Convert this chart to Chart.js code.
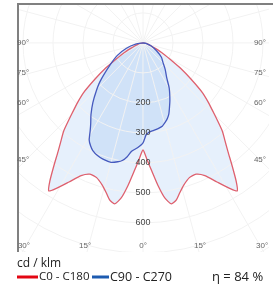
<!DOCTYPE html>
<html>
<head>
<meta charset="utf-8">
<script src="https://cdn.jsdelivr.net/npm/chart.js@4.4.0/dist/chart.umd.min.js"></script>
<style>
  body { margin: 0; background: #fff; }
  #wrap { width: 273px; height: 288px; position: relative; }
</style>
</head>
<body>
<div id="wrap"><canvas id="ldc"></canvas></div>
<script>
// C0 - C180 plane (symmetric), angle from nadir in degrees -> cd/klm
const redAngles = [0, 2, 4, 6, 8, 10, 12, 14, 16, 19, 22, 25, 28, 31, 32.5, 34, 36, 38, 40, 42, 44, 46, 48, 50, 53, 56, 58, 62, 66, 70, 75, 80, 90];
const redValues = [357, 390, 430, 478, 522, 545, 535, 512, 493, 475, 472, 488, 525, 568, 585, 555, 505, 460, 425, 395, 355, 320, 290, 260, 200, 150, 118, 75, 45, 28, 18, 10, 0];

// C90 - C270 plane, negative angles = C270 side
const blueAngles = [-90, -80, -72, -64, -56, -48, -44, -40, -36, -33, -31, -29, -27, -25, -22, -19, -15, -12, -10, -8, -6, -3, 0, 2, 4, 7, 10, 13, 16, 18, 20, 22, 25, 30, 34, 40, 46, 52, 60, 70, 80, 90];
const blueValues = [0, 25, 58, 95, 133, 193, 225, 260, 295, 320, 342, 370, 385, 396, 405, 410, 412, 405, 398, 384, 363, 350, 333, 306, 298, 294, 290, 285, 273, 264, 252, 235, 212, 175, 142, 115, 92, 78, 52, 28, 10, 0];

const radiusTicks = [200, 300, 400, 500, 600];
const sideAngleLabels = ['90°', '75°', '60°', '45°'];
const bottomAngleLabels = ['30°', '15°', '0°', '15°', '30°'];
const seriesNames = ['C0 - C180', 'C90 - C270'];
const unitLabel = 'cd / klm';
const efficiencyLabel = 'η = 84 %';

// polar (angle from nadir, intensity) -> x/y for the scatter scales
function toXY(angles, values) {
  return angles.map((a, i) => {
    const t = a * Math.PI / 180;
    return { x: values[i] * Math.sin(t), y: -values[i] * Math.cos(t) };
  });
}

// mirror the red half-curve to get the full C0-C180 curve
const redFullAngles = redAngles.slice(1).reverse().map(a => -a).concat(redAngles);
const redFullValues = redValues.slice(1).reverse().concat(redValues);

const polarGrid = {
  id: 'polarGrid',
  beforeDatasetsDraw(chart) {
    const { ctx, chartArea, scales } = chart;
    const cx = scales.x.getPixelForValue(0);
    const cy = scales.y.getPixelForValue(0);
    const unit = scales.x.getPixelForValue(100) - cx;
    ctx.save();
    ctx.beginPath();
    ctx.rect(chartArea.left, chartArea.top, chartArea.width, chartArea.height);
    ctx.clip();
    ctx.strokeStyle = '#f2f2f2';
    ctx.lineWidth = 1;
    for (let r = 100; r <= 900; r += 100) {
      ctx.beginPath();
      ctx.arc(cx, cy, r / 100 * unit, 0, Math.PI * 2);
      ctx.stroke();
    }
    for (let a = 0; a < 360; a += 15) {
      const t = a * Math.PI / 180;
      ctx.beginPath();
      ctx.moveTo(cx, cy);
      ctx.lineTo(cx + Math.sin(t) * 1000, cy + Math.cos(t) * 1000);
      ctx.stroke();
    }
    ctx.restore();
  },
  afterDatasetsDraw(chart) {
    const { ctx, chartArea, scales } = chart;
    const cx = scales.x.getPixelForValue(0);
    ctx.save();
    // frame
    ctx.strokeStyle = '#808080';
    ctx.lineWidth = 2;
    ctx.beginPath();
    ctx.moveTo(chartArea.left + 1, chartArea.bottom);
    ctx.lineTo(chartArea.left + 1, chartArea.top + 1);
    ctx.lineTo(chartArea.right + 10, chartArea.top + 1);
    ctx.stroke();

    // intensity ticks along the nadir line
    ctx.font = '9px "Liberation Sans", Arial, sans-serif';
    ctx.fillStyle = '#444';
    ctx.textAlign = 'center';
    ctx.textBaseline = 'middle';
    radiusTicks.forEach(v => {
      ctx.fillText(String(v), cx, scales.y.getPixelForValue(-v));
    });

    // angle labels on the frame
    ctx.fillStyle = '#666';
    ctx.font = '8px "Liberation Sans", Arial, sans-serif';
    const sideY = [0, -100, -200, -390];
    sideAngleLabels.forEach((lab, i) => {
      const y = scales.y.getPixelForValue(sideY[i]);
      ctx.textAlign = 'left';
      ctx.fillText(lab, chartArea.left, y);
      ctx.textAlign = 'right';
      ctx.fillText(lab, chartArea.right - 3, y);
    });
    const bottomX = [-417, -193, 0, 190, 397];
    const by = chartArea.bottom - 6;
    bottomAngleLabels.forEach((lab, i) => {
      ctx.textAlign = i === 0 ? 'left' : 'center';
      ctx.fillText(lab, scales.x.getPixelForValue(bottomX[i]), by);
    });

    // unit + legend
    ctx.fillStyle = '#222';
    ctx.font = '12px "Open Sans", sans-serif';
    ctx.textAlign = 'left';
    ctx.fillText(unitLabel, 17, 264);
    const ly = 277;
    ctx.lineWidth = 3;
    ctx.strokeStyle = '#e30613';
    ctx.beginPath(); ctx.moveTo(17, ly); ctx.lineTo(38, ly); ctx.stroke();
    ctx.font = '11.5px "Open Sans", sans-serif';
    ctx.fillText(seriesNames[0], 39, ly);
    ctx.strokeStyle = '#1d5bb0';
    ctx.beginPath(); ctx.moveTo(92, ly); ctx.lineTo(109, ly); ctx.stroke();
    ctx.font = '12.5px "Open Sans", sans-serif';
    ctx.fillText(seriesNames[1], 110, ly);
    ctx.font = '13px "Open Sans", sans-serif';
    ctx.fillText(efficiencyLabel, 212, ly);
    ctx.restore();
  }
};

new Chart(document.getElementById('ldc'), {
  type: 'scatter',
  data: {
    datasets: [
      {
        label: seriesNames[0],
        data: toXY(redFullAngles, redFullValues),
        showLine: true,
        borderColor: 'rgb(222,96,110)',
        borderWidth: 1.3,
        backgroundColor: 'rgba(195,220,248,0.42)',
        fill: 'shape',
        pointRadius: 0,
        tension: 0.2,
        order: 2
      },
      {
        label: seriesNames[1],
        data: toXY(blueAngles, blueValues),
        showLine: true,
        borderColor: 'rgb(70,90,190)',
        borderWidth: 1.3,
        backgroundColor: 'rgba(175,205,242,0.4)',
        fill: 'shape',
        pointRadius: 0,
        tension: 0.2,
        order: 1
      }
    ]
  },
  options: {
    responsive: true,
    maintainAspectRatio: false,
    animation: false,
    layout: { padding: { left: 17, right: 4, top: 3, bottom: 36 } },
    plugins: {
      legend: { display: false },
      tooltip: { enabled: false },
      filler: { drawTime: 'beforeDatasetsDraw' }
    },
    scales: {
      x: { type: 'linear', min: -420, max: 420, display: false },
      y: { type: 'linear', min: -697, max: 133, display: false }
    }
  },
  plugins: [polarGrid]
});
</script>
</body>
</html>
